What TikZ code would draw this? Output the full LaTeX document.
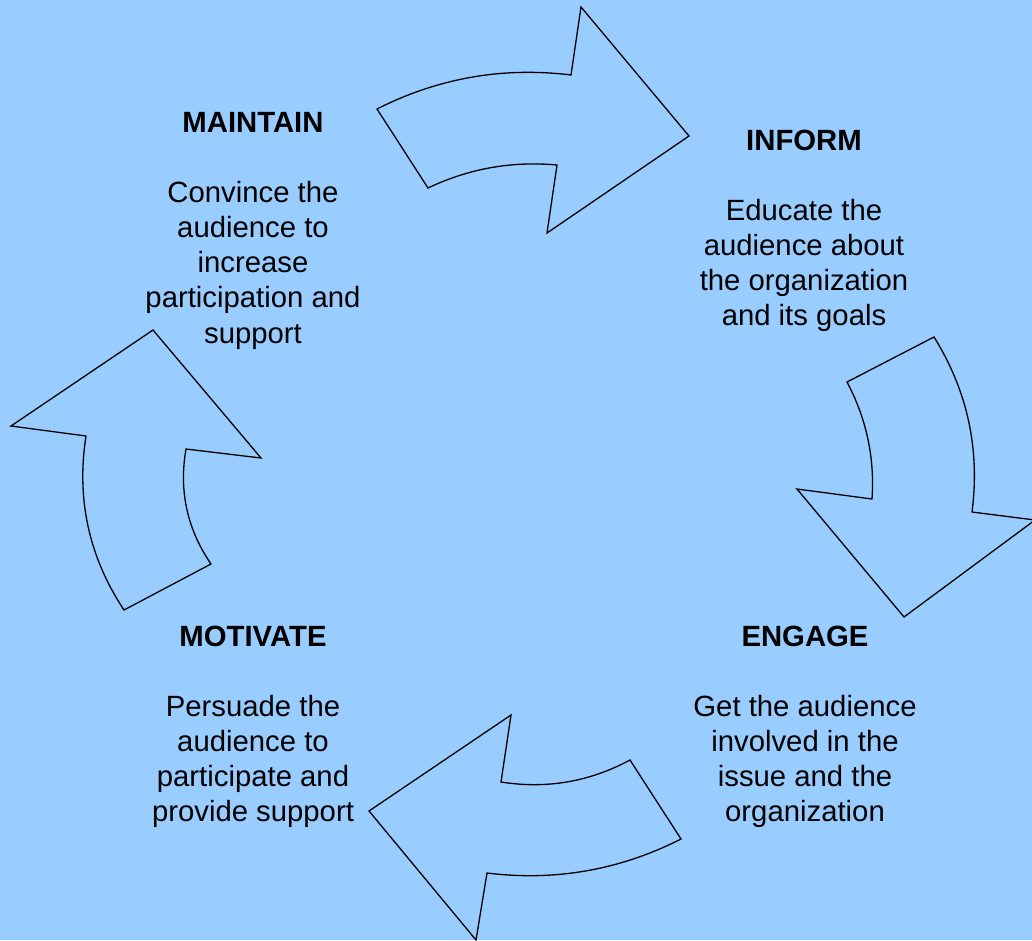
\documentclass[tikz,border=0pt]{standalone}
\usepackage{fontspec}
\setmainfont{Liberation Sans}
\definecolor{bgblue}{RGB}{153,204,255}
\tikzset{
  cyclearrow/.style={draw=black, line width=1.3pt, line join=miter, fill=bgblue},
  headtext/.style={font=\fontsize{29.3}{35.2}\selectfont\bfseries, inner sep=0pt, anchor=base},
  bodytext/.style={font=\fontsize{29.3}{35.2}\selectfont, inner sep=0pt, anchor=north, align=center}
}
\begin{document}
\begin{tikzpicture}[x=1pt,y=-1pt]
\fill[bgblue] (0,0) rectangle (1032,940);
\useasboundingbox (0,0) rectangle (1032,940);
\begin{scope}
\clip (0,0) rectangle (1032,940);
% top arrow (MAINTAIN -> INFORM)
\draw[cyclearrow] (377,109) .. controls (438.2,78.0) and (502.8,66.6) .. (571,75)
  -- (581,7) -- (689,136) -- (547,233) -- (557,165)
  .. controls (511.9,160.9) and (468.9,168.5) .. (428,188) -- cycle;
% right arrow (INFORM -> ENGAGE)
\draw[cyclearrow] (847,382) -- (934,337)
  .. controls (967.5,390.8) and (980.1,449.2) .. (972,512)
  -- (1035,520) -- (904,617) -- (797,489) -- (872,499)
  .. controls (874.8,457.6) and (866.4,418.6) .. (847,382) -- cycle;
% bottom arrow (ENGAGE -> MOTIVATE)
\draw[cyclearrow] (511,715) -- (369,811) -- (476,940) -- (487,873)
  .. controls (555.2,881.4) and (619.8,870.0) .. (681,839)
  -- (630,760)
  .. controls (589.5,781.8) and (546.5,789.2) .. (501,782) -- cycle;
% left arrow (MOTIVATE -> MAINTAIN)
\draw[cyclearrow] (153,330) -- (261,458) -- (186,449)
  .. controls (178.7,490.7) and (187.1,529.1) .. (211,564)
  -- (124,610)
  .. controls (88.8,556.9) and (76.2,498.9) .. (86,436)
  -- (11,426) -- cycle;
\end{scope}
% texts
\node[headtext] (maintainHead) at (253,132) {MAINTAIN};
\node[bodytext] (maintainText) at (253,177.4) {\strut Convince the\\audience to\\increase\\participation and\\support};
\node[headtext] (informHead) at (804,150) {INFORM};
\node[bodytext] (informText) at (804,195.4) {\strut Educate the\\audience about\\the organization\\and its goals};
\node[headtext] (engageHead) at (805,646) {ENGAGE};
\node[bodytext] (engageText) at (805,691.4) {\strut Get the audience\\involved in the\\issue and the\\organization};
\node[headtext] (motivateHead) at (253,646) {MOTIVATE};
\node[bodytext] (motivateText) at (253,691.4) {\strut Persuade the\\audience to\\participate and\\provide support};
\end{tikzpicture}
\end{document}
